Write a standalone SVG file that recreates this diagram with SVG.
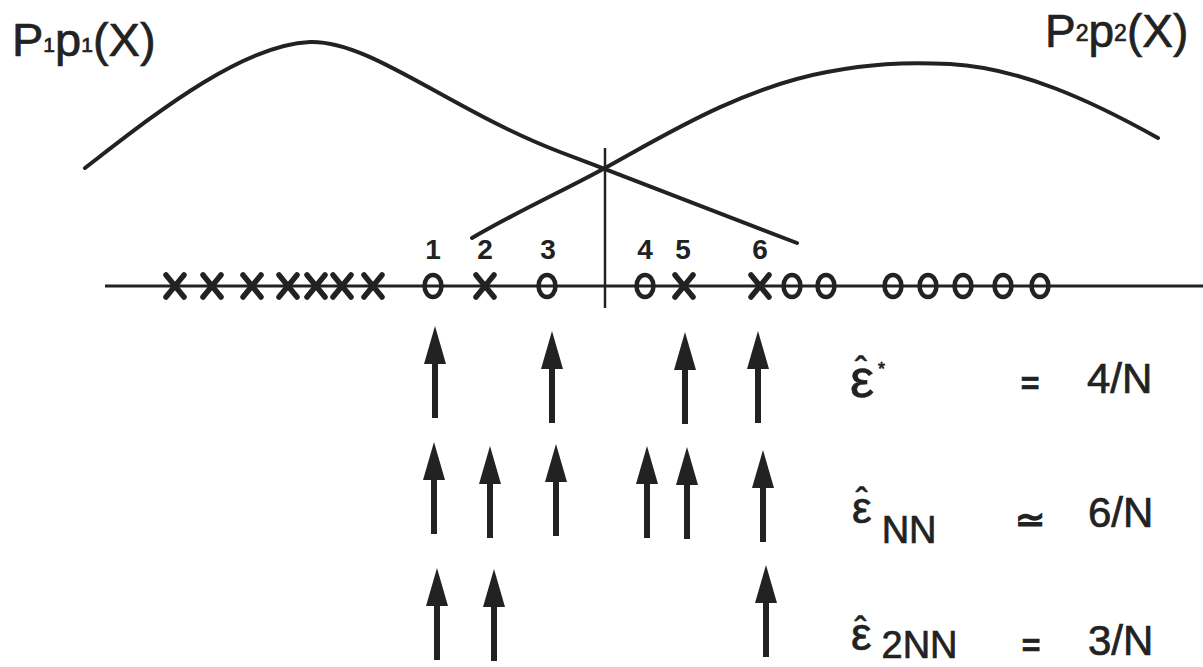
<svg xmlns="http://www.w3.org/2000/svg" width="1203" height="667" viewBox="0 0 1203 667">
<style>
.t{font-family:"Liberation Sans",Arial,sans-serif;fill:#222;stroke:#222;stroke-width:0.7}
.num{font-family:"Liberation Sans",Arial,sans-serif;font-size:28px;font-weight:bold;fill:#222;text-anchor:middle}
.curve{fill:none;stroke:#222;stroke-width:4;stroke-linecap:round}
.xm{stroke:#222;stroke-width:5.5;stroke-linecap:round}
.om{fill:none;stroke:#222;stroke-width:4.5}
</style>
<defs>
<g id="arrow">
<polygon points="0,0 -11,38 11,38" fill="#222"/>
<rect x="-3" y="36" width="6" height="56" fill="#222"/>
</g>
<g id="xmark">
<line class="xm" x1="-9" y1="-11" x2="9" y2="11"/>
<line class="xm" x1="9" y1="-11" x2="-9" y2="11"/>
</g>
<ellipse id="omark" class="om" cx="0" cy="0" rx="8.5" ry="11"/>
</defs>
<rect width="1203" height="667" fill="#fff"/>
<g id="label-p1">
<text class="t" x="12" y="56" font-size="47">P<tspan font-size="21" dy="-4">1</tspan><tspan dy="4">p</tspan><tspan font-size="21" dy="-4">1</tspan><tspan dy="4">(X)</tspan></text>
</g>
<g id="label-p2">
<text class="t" x="1045" y="47" font-size="46">P<tspan font-size="23" dy="-6">2</tspan><tspan dy="6">p</tspan><tspan font-size="23" dy="-6">2</tspan><tspan dy="6">(X)</tspan></text>
</g>
<g id="curves">
<path id="curve1" class="curve" d="M85,168 C150,118 240,45 310,42 C370,40 450,110 560,152 C640,182 720,214 797,243"/>
<path id="curve2" class="curve" d="M472,238 C520,210 565,190 605,168 C660,138 740,88 827,72 C870,64 900,62 950,64 C1020,68 1090,100 1158,138"/>
</g>
<g id="boundary">
<line x1="605" y1="148" x2="605" y2="308" stroke="#222" stroke-width="2.5"/>
</g>
<g id="axis">
<line x1="105" y1="286" x2="1203" y2="286" stroke="#222" stroke-width="3"/>
</g>
<g id="samples">
<use href="#xmark" x="175" y="286"/>
<use href="#xmark" x="212" y="286"/>
<use href="#xmark" x="252" y="286"/>
<use href="#xmark" x="288" y="286"/>
<use href="#xmark" x="316" y="286"/>
<use href="#xmark" x="342" y="286"/>
<use href="#xmark" x="373" y="286"/>
<use href="#omark" x="433" y="286"/>
<use href="#xmark" x="485" y="286"/>
<use href="#omark" x="547" y="286"/>
<use href="#omark" x="645" y="286"/>
<use href="#xmark" x="684" y="286"/>
<use href="#xmark" x="760" y="286"/>
<use href="#omark" x="792" y="286"/>
<use href="#omark" x="826" y="286"/>
<use href="#omark" x="893" y="286"/>
<use href="#omark" x="928" y="286"/>
<use href="#omark" x="963" y="286"/>
<use href="#omark" x="1003" y="286"/>
<use href="#omark" x="1040" y="286"/>
</g>
<g id="sample-numbers">
<text class="num" x="433" y="259">1</text>
<text class="num" x="485" y="259">2</text>
<text class="num" x="548" y="259">3</text>
<text class="num" x="645" y="259">4</text>
<text class="num" x="683" y="259">5</text>
<text class="num" x="760" y="259">6</text>
</g>
<g id="connectors">
<use href="#arrow" x="435" y="326"/>
<use href="#arrow" x="552" y="331"/>
<use href="#arrow" x="685" y="332"/>
<use href="#arrow" x="758" y="331"/>
<use href="#arrow" x="434" y="442"/>
<use href="#arrow" x="490" y="446"/>
<use href="#arrow" x="556" y="444"/>
<use href="#arrow" x="647" y="446"/>
<use href="#arrow" x="687" y="447"/>
<use href="#arrow" x="763" y="450"/>
<use href="#arrow" x="437" y="568"/>
<use href="#arrow" x="494" y="569"/>
<use href="#arrow" x="766" y="565"/>
</g>
<g id="eq-bayes">
<text class="t" x="850" y="397" font-size="54">ε<tspan font-size="36" dx="-19" dy="-14">ˆ</tspan><tspan font-size="18" dx="11" dy="-8">*</tspan></text>
<text class="t" x="1030" y="394" font-size="32" font-weight="bold" text-anchor="middle">=</text>
<text class="t" x="1087" y="393" font-size="42">4/N</text>
</g>
<g id="eq-nn">
<text class="t" x="852" y="523" font-size="44">ε<tspan font-size="36" dx="-16" dy="-9">ˆ</tspan><tspan font-size="38" dx="14" dy="29">NN</tspan></text>
<text class="t" x="1030" y="532" font-size="36" text-anchor="middle" style="stroke-width:1.6">≃</text>
<text class="t" x="1088" y="527" font-size="42">6/N</text>
</g>
<g id="eq-2nn">
<text class="t" x="851" y="650" font-size="46">ε<tspan font-size="36" dx="-17" dy="-7">ˆ</tspan><tspan font-size="38" dx="15" dy="15">2NN</tspan></text>
<text class="t" x="1031" y="656" font-size="32" font-weight="bold" text-anchor="middle">=</text>
<text class="t" x="1088" y="655" font-size="42">3/N</text>
</g>
</svg>
